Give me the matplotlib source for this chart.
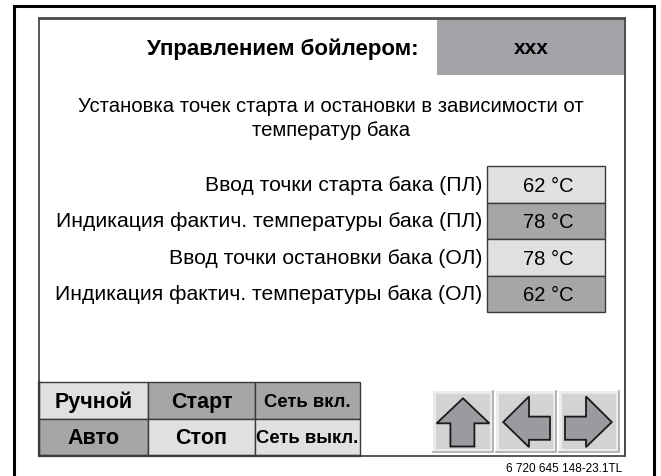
import matplotlib.pyplot as plt
from matplotlib.patches import Rectangle, Polygon

# screen contents
title = "Управлением бойлером:"
title_box = "xxx"
subtitle = ["Установка точек старта и остановки в зависимости от", "температур бака"]
row_labels = ["Ввод точки старта бака (ПЛ)",
              "Индикация фактич. температуры бака (ПЛ)",
              "Ввод точки остановки бака (ОЛ)",
              "Индикация фактич. температуры бака (ОЛ)"]
row_values = ["62 °C", "78 °C", "78 °C", "62 °C"]
row_dark = [False, True, False, True]
btn_top = ["Ручной", "Старт", "Сеть вкл."]
btn_bottom = ["Авто", "Стоп", "Сеть выкл."]
btn_top_dark = [False, True, True]
btn_bottom_dark = [True, False, False]
footer = "6 720 645 148-23.1TL"

plt.rcParams['font.family'] = ['Liberation Sans', 'DejaVu Sans']

LIGHT = "#e0e0e0"
DARK = "#a6a6a8"

fig = plt.figure(figsize=(6.61, 4.77), dpi=100)
ax = fig.add_axes([0, 0, 1, 1])
ax.set_xlim(0, 661)
ax.set_ylim(477, 0)
ax.axis('off')

# outer frame (open at the bottom)
ax.plot([14, 14, 654, 654], [480, 7, 7, 480], color='black', lw=2.2, solid_joinstyle='miter')

# screen
ax.add_patch(Rectangle((39, 19), 586, 438, fc='white', ec='#4a4a4a', lw=1.3))
ax.add_patch(Rectangle((437, 19), 188, 57, fc="#a3a4a8", ec='none'))
ax.plot([39, 625], [19.5, 19.5], color='#4a4a4a', lw=1.3)
ax.plot([625, 625], [19, 457], color='#4a4a4a', lw=1.3)

ax.text(283, 49, title, ha='center', va='center', fontsize=16, weight='bold')
ax.text(531, 49, title_box, ha='center', va='center', fontsize=15, weight='bold')
ax.text(331, 107, subtitle[0], ha='center', va='center', fontsize=14.6)
ax.text(331, 131, subtitle[1], ha='center', va='center', fontsize=14.6)

# value table
row_top = 167
row_h = 36.5
for i, (lab, val) in enumerate(zip(row_labels, row_values)):
    y0 = row_top + i * row_h
    ax.add_patch(Rectangle((487, y0), 118, row_h, fc=DARK if row_dark[i] else LIGHT,
                           ec='#3a3a3a', lw=1.0))
    ax.text(482, y0 + row_h / 2, lab, ha='right', va='center', fontsize=15.2)
    ax.text(548, y0 + row_h / 2 + 1, val, ha='center', va='center', fontsize=14.5)

# mode buttons
cols = [39, 148, 255, 360]
rows = [383, 420, 456]
for r, (labels, dark) in enumerate([(btn_top, btn_top_dark), (btn_bottom, btn_bottom_dark)]):
    for c, lab in enumerate(labels):
        x0, x1 = cols[c], cols[c + 1]
        y0, y1 = rows[r], rows[r + 1]
        ax.add_patch(Rectangle((x0, y0), x1 - x0, y1 - y0, fc=DARK if dark[c] else LIGHT,
                               ec='#3a3a3a', lw=1.0))
        small = c == 2
        ax.text((x0 + x1) / 2, (y0 + y1) / 2 + 1, lab, ha='center', va='center',
                fontsize=13.3 if small else 15.5, weight='bold')
ax.plot([39, 39, 360], [383, 457, 457], color='#3a3a3a', lw=1.6)

# arrow buttons
arrow_btns = [433, 496, 559]
arrow_w = 60
up = [(0.5, 0.12), (0.06, 0.53), (0.29, 0.53), (0.29, 0.91), (0.69, 0.91), (0.69, 0.53), (0.94, 0.53)]
right = [(0.1, 0.42), (0.45, 0.42), (0.45, 0.09), (0.88, 0.51), (0.45, 0.92), (0.45, 0.80), (0.1, 0.80)]
left = [(1 - x, y) for x, y in right]
for x0, shape in zip(arrow_btns, [up, left, right]):
    y0, h = 392, 61
    ax.add_patch(Rectangle((x0, y0), arrow_w, h, fc='#ebebeb', ec='none'))
    ax.add_patch(Rectangle((x0 + 3, y0 + 3), arrow_w - 6, h - 6, fc='#d3d3d3', ec='none'))
    ax.plot([x0, x0 + arrow_w, x0 + arrow_w], [y0 + h, y0 + h, y0], color='#a8a8a8', lw=1.2)
    pts = [(x0 + px * arrow_w, y0 + py * h) for px, py in shape]
    ax.add_patch(Polygon(pts, closed=True, fc='#9a9b9f', ec='#1a1a1a', lw=1.3, joinstyle='miter'))

ax.text(622, 469, footer, ha='right', va='center', fontsize=8.5)

fig.savefig('out.png', dpi=100)
